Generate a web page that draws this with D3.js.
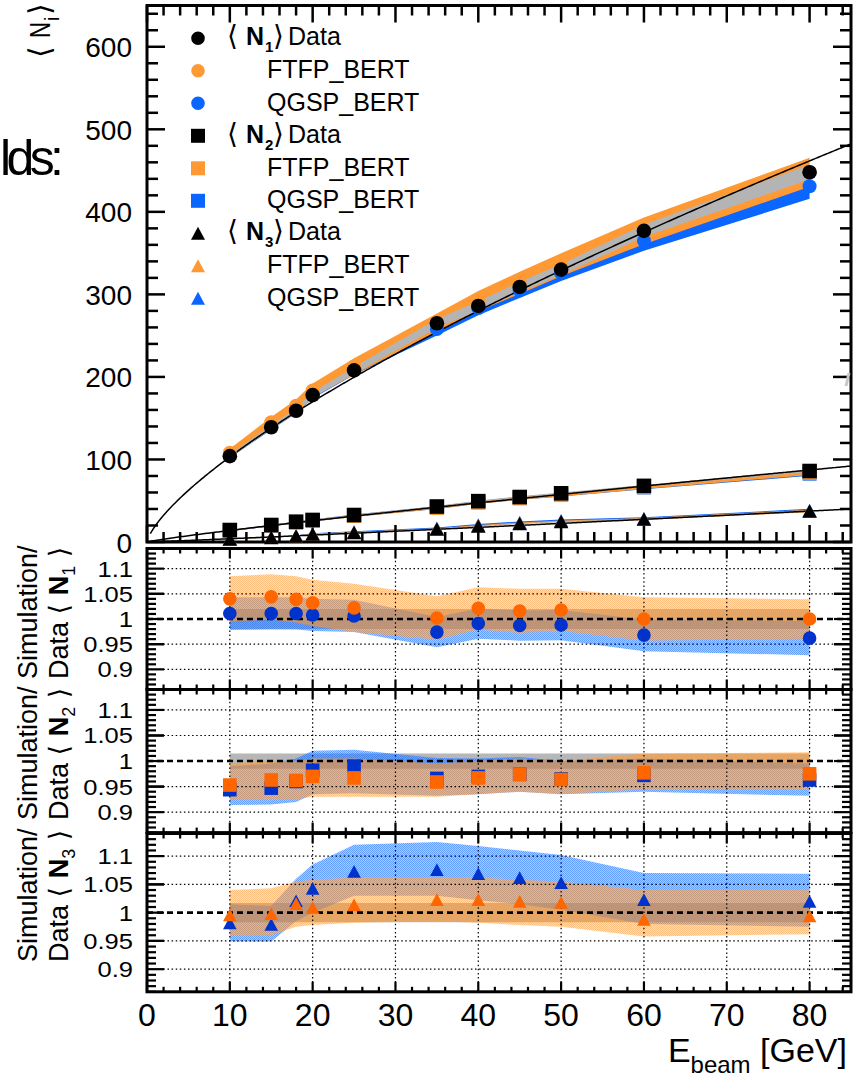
<!DOCTYPE html>
<html>
<head>
<meta charset="utf-8">
<script src="https://cdn.jsdelivr.net/npm/d3@7"></script>
<style>
  body { margin: 0; background: #fff; }
  svg { display: block; }
  text { font-family: "Liberation Sans", Arial, Helvetica, sans-serif; fill: #000; }
  .sym { font-family: "DejaVu Sans", "Liberation Sans", sans-serif; }
</style>
</head>
<body>
<svg id="chart" width="856" height="1081"></svg>
<script>
// Beam energies (GeV)
const energy = [10, 15, 18, 20, 25, 35, 40, 45, 50, 60, 80];

// Measured mean numbers <N1>, <N2>, <N3>
const n1Data = [104, 139, 159, 178, 208, 265, 286, 309, 330, 377, 448];
const n2Data = [14.5, 20.6, 24.6, 26.7, 32.7, 43, 49.5, 54.5, 59, 68, 86];
const n3Data = [3.6, 5.5, 7.3, 9.7, 11.5, 15.7, 19.4, 22.4, 24.8, 27.9, 37.6];

// Simulation / data ratios
const n1RatioFtfp = [1.040, 1.044, 1.039, 1.032, 1.022, 1.002, 1.021, 1.016, 1.018, 1.000, 1.000];
const n1RatioQgsp = [1.011, 1.011, 1.011, 1.008, 1.006, 0.974, 0.991, 0.987, 0.988, 0.968, 0.962];
const n2RatioFtfp = [0.953, 0.963, 0.962, 0.970, 0.967, 0.959, 0.967, 0.974, 0.964, 0.977, 0.975];
const n2RatioQgsp = [0.944, 0.947, 0.960, 0.982, 0.990, 0.966, 0.970, 0.974, 0.965, 0.972, 0.963];
const n3RatioFtfp = [0.996, 0.998, 1.016, 1.009, 1.014, 1.023, 1.023, 1.020, 1.018, 0.988, 0.994];
const n3RatioQgsp = [0.982, 0.979, 1.021, 1.043, 1.073, 1.076, 1.069, 1.062, 1.053, 1.023, 1.020];

// Uncertainty bands on the ratios (lower / upper edge)
const n1FtfpLo = [0.995, 0.999, 0.993, 0.986, 0.974, 0.959, 0.979, 0.972, 0.976, 0.957, 0.961];
const n1FtfpHi = [1.085, 1.089, 1.085, 1.078, 1.070, 1.045, 1.063, 1.060, 1.060, 1.043, 1.039];
const n1QgspLo = [0.978, 0.979, 0.979, 0.976, 0.974, 0.944, 0.961, 0.957, 0.958, 0.936, 0.928];
const n1QgspHi = [1.043, 1.043, 1.043, 1.040, 1.038, 1.004, 1.021, 1.017, 1.018, 0.999, 0.996];
const n1DataLo = [0.980, 0.980, 0.980, 0.980, 0.980, 0.980, 0.980, 0.980, 0.980, 0.980, 0.980];
const n1DataHi = [1.020, 1.020, 1.020, 1.020, 1.020, 1.020, 1.020, 1.020, 1.020, 1.020, 1.020];

const n2FtfpLo = [0.925, 0.925, 0.925, 0.930, 0.930, 0.930, 0.935, 0.940, 0.935, 0.945, 0.945];
const n2FtfpHi = [0.995, 1.000, 1.000, 1.005, 1.005, 0.995, 1.000, 1.005, 1.000, 1.015, 1.017];
const n2QgspLo = [0.914, 0.915, 0.920, 0.935, 0.937, 0.932, 0.935, 0.940, 0.935, 0.940, 0.932];
const n2QgspHi = [0.990, 0.995, 1.005, 1.020, 1.022, 1.006, 1.005, 1.008, 1.000, 1.005, 0.995];
const n2DataLo = [0.985, 0.985, 0.985, 0.985, 0.985, 0.985, 0.985, 0.985, 0.985, 0.985, 0.985];
const n2DataHi = [1.015, 1.015, 1.015, 1.015, 1.015, 1.015, 1.015, 1.015, 1.015, 1.015, 1.015];

const n3FtfpLo = [0.960, 0.960, 0.975, 0.978, 0.982, 0.985, 0.982, 0.978, 0.975, 0.958, 0.962];
const n3FtfpHi = [1.040, 1.043, 1.055, 1.058, 1.062, 1.063, 1.062, 1.058, 1.055, 1.040, 1.040];
const n3QgspLo = [0.949, 0.949, 0.985, 1.000, 1.030, 1.030, 1.022, 1.015, 1.005, 0.980, 0.975];
const n3QgspHi = [1.015, 1.012, 1.060, 1.085, 1.120, 1.125, 1.118, 1.110, 1.102, 1.070, 1.069];
const n3DataLo = [0.983, 0.983, 0.983, 0.983, 0.983, 0.983, 0.983, 0.983, 0.983, 0.983, 0.983];
const n3DataHi = [1.017, 1.017, 1.017, 1.017, 1.017, 1.017, 1.017, 1.017, 1.017, 1.017, 1.017];

// Power-law fits <N> = a * E^b for N1, N2, N3
const fitA = [19.6, 1.845, 0.33];
const fitB = [0.721, 0.88, 1.08];

// Axis ticks and labels
const xTickValues = [0, 10, 20, 30, 40, 50, 60, 70, 80];
const xTickLabels = ["0", "10", "20", "30", "40", "50", "60", "70", "80"];
const yTopTickValues = [0, 100, 200, 300, 400, 500, 600];
const yTopTickLabels = ["0", "100", "200", "300", "400", "500", "600"];
const ratioTickValues = [0.9, 0.95, 1, 1.05, 1.1];
const ratioTickLabels = ["0.9", "0.95", "1", "1.05", "1.1"];

// Legend entries
const legendSubs = ["1", "2", "3"];
const legendModels = ["FTFP_BERT", "QGSP_BERT"];

// ---------------------------------------------------------------
const colOrange = "#ff9933", colBlue = "#0a66ff", colGray = "#b4b4b4";
const colOrangeDark = "#ff6600", colBlueDark = "#0033cc";
const SYMF = '"DejaVu Sans", sans-serif';

const svg = d3.select("#chart");
const defs = svg.append("defs");

// dotted fill styles for the ratio bands
function makePattern(id, color, base, dot) {
  const p = defs.append("pattern").attr("id", id)
    .attr("width", 2).attr("height", 2).attr("patternUnits", "userSpaceOnUse");
  p.append("rect").attr("width", 2).attr("height", 2).attr("fill", color).attr("opacity", base);
  p.append("rect").attr("x", 0).attr("y", 0).attr("width", 1).attr("height", 1).attr("fill", color).attr("opacity", dot);
  p.append("rect").attr("x", 1).attr("y", 1).attr("width", 1).attr("height", 1).attr("fill", color).attr("opacity", dot);
}
makePattern("fillOrange", colOrange, 0.32, 0.45);
makePattern("fillBlue", "#1a72ff", 0.36, 0.5);

const x = d3.scaleLinear().domain([0, 85]).range([147, 851]);
const yTop = d3.scaleLinear().domain([0, 650]).range([542, 5.5]);

function markerPath(type, s) {
  if (type === "circle") return d3.symbol(d3.symbolCircle, Math.PI * s * s)();
  if (type === "square") return d3.symbol(d3.symbolSquare, 4 * s * s)();
  return `M${-s},${s * 0.93}L${s},${s * 0.93}L0,${-s * 0.93}Z`;
}

// widen a label horizontally (the axis font is a little wider than Liberation Sans)
function widen(sel, k) {
  sel.each(function () {
    const w = this.getComputedTextLength();
    d3.select(this).attr("textLength", w * k).attr("lengthAdjust", "spacingAndGlyphs");
  });
  return sel;
}

function drawXTicks(g, yEdge, dir, major, minor) {
  d3.range(0, 85.001, 2).forEach(v => {
    const isMajor = Math.abs(v % 10) < 1e-6;
    const len = isMajor ? major : minor;
    g.append("line").attr("x1", x(v)).attr("x2", x(v))
      .attr("y1", yEdge).attr("y2", yEdge + dir * len);
  });
}
function drawYTicks(g, scale, values, majors, major, minor) {
  values.forEach(v => {
    const isMajor = majors.some(m => Math.abs(m - v) < 1e-6);
    const len = isMajor ? major : minor;
    const yy = scale(v);
    g.append("line").attr("x1", x(0)).attr("x2", x(0) + len).attr("y1", yy).attr("y2", yy);
    g.append("line").attr("x1", x(85)).attr("x2", x(85) - len).attr("y1", yy).attr("y2", yy);
  });
}

// ================= Upper panel =================
const topG = svg.append("g");
defs.append("clipPath").attr("id", "clipTop").append("rect")
  .attr("x", x(0)).attr("y", yTop(650)).attr("width", x(85) - x(0)).attr("height", yTop(0) - yTop(650));

const series = [
  { data: n1Data, rf: n1RatioFtfp, rq: n1RatioQgsp, fLo: n1FtfpLo, fHi: n1FtfpHi, qLo: n1QgspLo, qHi: n1QgspHi, dLo: n1DataLo, dHi: n1DataHi, sym: "circle" },
  { data: n2Data, rf: n2RatioFtfp, rq: n2RatioQgsp, fLo: n2FtfpLo, fHi: n2FtfpHi, qLo: n2QgspLo, qHi: n2QgspHi, dLo: n2DataLo, dHi: n2DataHi, sym: "square" },
  { data: n3Data, rf: n3RatioFtfp, rq: n3RatioQgsp, fLo: n3FtfpLo, fHi: n3FtfpHi, qLo: n3QgspLo, qHi: n3QgspHi, dLo: n3DataLo, dHi: n3DataHi, sym: "triangle" }
];

const bandTop = (s, lo, hi) => d3.area()
  .x((d, i) => x(energy[i]))
  .y0((d, i) => yTop(s.data[i] * lo[i]))
  .y1((d, i) => yTop(s.data[i] * hi[i]))(energy);

const bandLayer = topG.append("g").attr("clip-path", "url(#clipTop)");
series.forEach(s => {
  bandLayer.append("path").attr("d", bandTop(s, s.qLo, s.qHi)).attr("fill", colBlue);
  bandLayer.append("path").attr("d", bandTop(s, s.fLo, s.fHi)).attr("fill", colOrange);
  bandLayer.append("path").attr("d", bandTop(s, s.dLo, s.dHi)).attr("fill", colGray);
});

// fitted curves
const fitLayer = topG.append("g").attr("clip-path", "url(#clipTop)");
const fitX = d3.range(0.4, 85.01, 0.2);
fitA.forEach((a, k) => {
  const b = fitB[k];
  fitLayer.append("path")
    .attr("d", d3.line().x(e => x(e)).y(e => yTop(a * Math.pow(e, b)))(fitX))
    .attr("fill", "none").attr("stroke", "#000").attr("stroke-width", 1.5);
});

// frame and ticks
const topAxes = topG.append("g").attr("stroke", "#000").attr("stroke-width", 2.5);
drawXTicks(topAxes, yTop(650), 1, 17, 10);
drawXTicks(topAxes, yTop(0), -1, 17, 10);
drawYTicks(topAxes, yTop, d3.range(0, 651, 20), yTopTickValues, 18, 11);
topG.append("rect").attr("x", x(0)).attr("y", yTop(650))
  .attr("width", x(85) - x(0)).attr("height", yTop(0) - yTop(650))
  .attr("fill", "none").attr("stroke", "#000").attr("stroke-width", 3);

// markers: simulation then data
series.forEach(s => {
  energy.forEach((e, i) => {
    topG.append("path").attr("d", markerPath(s.sym, 7))
      .attr("transform", `translate(${x(e)},${yTop(s.data[i] * s.rq[i])})`).attr("fill", colBlue);
    topG.append("path").attr("d", markerPath(s.sym, 7))
      .attr("transform", `translate(${x(e)},${yTop(s.data[i] * s.rf[i])})`).attr("fill", colOrange);
  });
});
series.forEach(s => {
  energy.forEach((e, i) => {
    topG.append("path").attr("d", markerPath(s.sym, 7.3))
      .attr("transform", `translate(${x(e)},${yTop(s.data[i])})`).attr("fill", "#000");
  });
});

// y tick labels
yTopTickValues.forEach((v, i) => {
  topG.append("text").attr("x", 132).attr("y", yTop(v) + 10.5)
    .attr("text-anchor", "end").attr("font-size", 28).text(yTopTickLabels[i]);
});

// y title  <N_i>  (rotated; local x runs upward)
const yTitle = topG.append("g").attr("transform", "translate(50,0) rotate(-90)")
  .append("text").attr("font-size", 30);
yTitle.append("tspan").attr("x", -58).attr("y", 0).style("font-family", SYMF).attr("font-size", 30).text("⟨");
yTitle.append("tspan").attr("x", -38).attr("y", 0).attr("textLength", 16).attr("lengthAdjust", "spacingAndGlyphs").text("N");
yTitle.append("tspan").attr("x", -21).attr("y", 9).attr("font-size", 20).text("i");
yTitle.append("tspan").attr("x", -15).attr("y", 0).style("font-family", SYMF).attr("font-size", 30).text("⟩");

// stray caption text at the left edge
svg.append("text").attr("x", 0).attr("y", 175).attr("font-size", 50)
  .attr("textLength", 64).attr("lengthAdjust", "spacing").text("lds:");
svg.append("line").attr("x1", 846).attr("y1", 386).attr("x2", 849).attr("y2", 373)
  .attr("stroke", "#c8c8c8").attr("stroke-width", 3);

// legend
const legend = svg.append("g");
const legendSyms = ["circle", "square", "triangle"];
const legendCols = ["#000", colOrange, colBlue];
legendSyms.forEach((sym, k) => {
  for (let j = 0; j < 3; j++) {
    const row = k * 3 + j;
    const cy = 38.3 + row * 32.5;
    legend.append("path").attr("d", markerPath(sym, sym === "circle" ? 6.8 : 7))
      .attr("transform", `translate(198,${cy})`).attr("fill", legendCols[j]);
    if (j === 0) {
      const base = cy + 7;
      const t = legend.append("text").attr("x", 227).attr("y", base).attr("font-size", 25);
      t.append("tspan").attr("x", 227).attr("y", base).style("font-family", SYMF).attr("font-size", 28).text("⟨");
      t.append("tspan").attr("x", 246).attr("y", base).attr("font-weight", "bold").text("N");
      t.append("tspan").attr("x", 265).attr("y", base + 7).attr("font-weight", "bold").attr("font-size", 15).text(legendSubs[k]);
      t.append("tspan").attr("x", 273).attr("y", base).style("font-family", SYMF).attr("font-size", 28).text("⟩");
      t.append("tspan").attr("x", 288).attr("y", base).text("Data");
    } else {
      legend.append("text").attr("x", 267).attr("y", cy + 7.5).attr("font-size", 25).text(legendModels[j - 1]);
    }
  }
});

// ================= Ratio panels =================
const panels = [
  { top: 548.5, bottom: 689.5, s: series[0], sub: "1", titleY: 679 },
  { top: 689.5, bottom: 832.6, s: series[1], sub: "2", titleY: 820 },
  { top: 833.5, bottom: 991.8, s: series[2], sub: "3", titleY: 962 }
];

panels.forEach((p, pi) => {
  const s = p.s;
  const y = d3.scaleLinear().domain([0.86, 1.14]).range([p.bottom, p.top]);
  const g = svg.append("g");
  const clipId = "clipRatio" + pi;
  defs.append("clipPath").attr("id", clipId).append("rect")
    .attr("x", x(0)).attr("y", p.top).attr("width", x(85) - x(0)).attr("height", p.bottom - p.top);

  const band = (lo, hi) => d3.area()
    .x((d, i) => x(energy[i])).y0((d, i) => y(lo[i])).y1((d, i) => y(hi[i]))(energy);
  const bands = g.append("g").attr("clip-path", `url(#${clipId})`);
  bands.append("path").attr("d", band(s.dLo, s.dHi)).attr("fill", "#999").attr("opacity", 0.7);
  bands.append("path").attr("d", band(s.qLo, s.qHi)).attr("fill", "url(#fillBlue)");
  bands.append("path").attr("d", band(s.fLo, s.fHi)).attr("fill", "url(#fillOrange)");

  // grid
  const grid = g.append("g").attr("stroke", "#000").attr("stroke-width", 1.2)
    .attr("stroke-dasharray", "1.5,2.6");
  xTickValues.filter(v => v > 0).forEach(v => {
    grid.append("line").attr("x1", x(v)).attr("x2", x(v)).attr("y1", p.top).attr("y2", p.bottom);
  });
  ratioTickValues.filter(v => v !== 1).forEach(v => {
    grid.append("line").attr("x1", x(0)).attr("x2", x(85)).attr("y1", y(v)).attr("y2", y(v));
  });
  g.append("line").attr("x1", x(0)).attr("x2", x(85)).attr("y1", y(1)).attr("y2", y(1))
    .attr("stroke", "#000").attr("stroke-width", 2.6).attr("stroke-dasharray", "6,4");

  // markers
  energy.forEach((e, i) => {
    g.append("path").attr("d", markerPath(s.sym, 6.8))
      .attr("transform", `translate(${x(e)},${y(s.rq[i])})`).attr("fill", colBlueDark);
  });
  energy.forEach((e, i) => {
    g.append("path").attr("d", markerPath(s.sym, 6.8))
      .attr("transform", `translate(${x(e)},${y(s.rf[i])})`).attr("fill", colOrangeDark);
  });

  // frame and ticks
  const ax = g.append("g").attr("stroke", "#000").attr("stroke-width", 2.2);
  drawXTicks(ax, p.top, 1, 10, 5);
  drawXTicks(ax, p.bottom, -1, 10, 5);
  const yMinor = d3.range(86, 115, 1).map(v => v / 100);
  drawYTicks(ax, y, yMinor.concat([0.95, 1.05]), ratioTickValues, 17, 9);
  g.append("rect").attr("x", x(0)).attr("y", p.top).attr("width", x(85) - x(0))
    .attr("height", p.bottom - p.top).attr("fill", "none").attr("stroke", "#000").attr("stroke-width", 3);

  ratioTickValues.forEach((v, i) => {
    const lbl = g.append("text").attr("x", 133).attr("y", y(v) + 8).attr("text-anchor", "end")
      .attr("font-size", 22).text(ratioTickLabels[i]);
    widen(lbl, 1.16);
  });

  // axis title: Simulation / Data <N_k>
  g.append("text").attr("transform", `translate(37,${p.titleY}) rotate(-90)`)
    .attr("font-size", 27).text("Simulation/");
  const t2 = g.append("text").attr("transform", `translate(68,${p.titleY}) rotate(-90)`)
    .attr("font-size", 27);
  t2.append("tspan").text("Data ");
  t2.append("tspan").style("font-family", SYMF).text("⟨ ");
  t2.append("tspan").attr("font-weight", "bold").text("N");
  t2.append("tspan").attr("dy", 7).attr("font-size", 18).text(p.sub);
  t2.append("tspan").attr("dy", -7).style("font-family", SYMF).text(" ⟩");
});

// x tick labels and title
xTickValues.forEach((v, i) => {
  svg.append("text").attr("x", x(v)).attr("y", 1026).attr("text-anchor", "middle")
    .attr("font-size", 32).text(xTickLabels[i]);
});
const xt = svg.append("text").attr("x", 847).attr("y", 1062).attr("text-anchor", "end").attr("font-size", 34);
xt.append("tspan").text("E");
xt.append("tspan").attr("dy", 11).attr("font-size", 24).text("beam");
xt.append("tspan").attr("dy", -11).text(" [GeV]");
</script>
</body>
</html>
